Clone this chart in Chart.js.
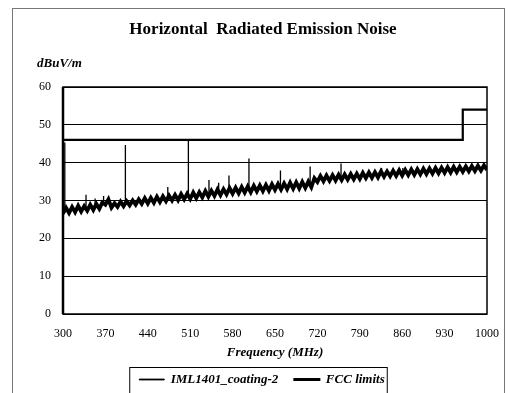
<!DOCTYPE html>
<html lang="en">
<head>
  <meta charset="UTF-8">
  <title>Horizontal Radiated Emission Noise</title>
  <script src="https://cdn.jsdelivr.net/npm/chart.js"></script>
  <style>
    body { margin: 0; background: #fff; }
    .frame { position: absolute; left: 12px; top: 8px; width: 491px; height: 400px; border: 1px solid #777; }
    .box { position: absolute; left: 0; top: 0; width: 512px; height: 393px; }
  </style>
</head>
<body>
  <div class="frame"></div>
  <div class="box"><canvas id="grafico" width="512" height="393"></canvas></div>

<script>
  // emission band (MHz / dBuV/m)
  const bandFreq = [
    300, 305, 310, 315, 320, 325, 330, 335, 340, 345, 350, 355, 360, 365, 370, 375, 380, 385, 390, 395,
    400, 405, 410, 415, 420, 425, 430, 435, 440, 445, 450, 455, 460, 465, 470, 475, 480, 485, 490, 495,
    500, 505, 510, 515, 520, 525, 530, 535, 540, 545, 550, 555, 560, 565, 570, 575, 580, 585, 590, 595,
    600, 605, 610, 615, 620, 625, 630, 635, 640, 645, 650, 655, 660, 665, 670, 675, 680, 685, 690, 695,
    700, 705, 710, 715, 720, 725, 730, 735, 740, 745, 750, 755, 760, 765, 770, 775, 780, 785, 790, 795,
    800, 805, 810, 815, 820, 825, 830, 835, 840, 845, 850, 855, 860, 865, 870, 875, 880, 885, 890, 895,
    900, 905, 910, 915, 920, 925, 930, 935, 940, 945, 950, 955, 960, 965, 970, 975, 980, 985, 990, 995,
    1000
  ];
  const bandLevel = [
    26.5, 28.1, 26.7, 28.3, 26.9, 28.6, 27.1, 28.5, 27.3, 28.9, 27.5, 29.1, 27.8, 29.5, 28.9, 30.3, 28.1, 29.3, 28.3, 29.7,
    28.5, 29.8, 28.7, 30.0, 28.9, 30.3, 29.1, 30.6, 29.2, 30.7, 29.4, 31.0, 29.6, 31.1, 29.8, 31.3, 30.0, 31.5, 30.1, 31.7,
    30.3, 31.8, 30.4, 32.1, 30.6, 32.2, 30.8, 32.5, 31.0, 32.6, 31.2, 32.9, 31.4, 33.0, 31.6, 33.3, 31.8, 33.4, 31.9, 33.6,
    32.1, 33.7, 32.2, 33.9, 32.4, 34.0, 32.5, 34.1, 32.6, 34.3, 32.8, 34.4, 32.9, 34.5, 33.0, 34.7, 33.1, 34.8, 33.2, 34.9,
    33.3, 35.0, 33.5, 35.9, 34.9, 36.5, 35.1, 36.6, 35.2, 36.7, 35.3, 36.8, 35.4, 36.9, 35.5, 37.0, 35.6, 37.1, 35.7, 37.3,
    35.9, 37.4, 36.0, 37.5, 36.1, 37.7, 36.3, 37.7, 36.4, 37.9, 36.5, 38.0, 36.6, 38.1, 36.7, 38.2, 36.8, 38.3, 36.9, 38.4,
    37.0, 38.5, 37.1, 38.6, 37.2, 38.7, 37.3, 38.8, 37.4, 38.9, 37.5, 38.9, 37.6, 39.0, 37.7, 39.1, 37.8, 39.2, 37.9, 39.3,
    38.1
  ];

  // narrow peaks sticking out of the band: frequency, top and foot level
  const spikeFreq = [303, 338, 353, 367, 403, 473, 507, 541, 557, 574, 607, 659, 708, 759, 826, 861];
  const spikeLevel = [45.3, 31.5, 30.5, 31.2, 44.7, 33.6, 46.0, 35.4, 34.7, 36.6, 41.1, 37.9, 39.0, 39.8, 38.6, 38.6];
  const spikeBase = [27.3, 28.2, 28.5, 29.0, 29.2, 30.5, 31.0, 31.8, 32.1, 32.4, 33.0, 33.7, 34.2, 36.2, 37.0, 37.4];

  // FCC limit line
  const fccFreq = [300, 960, 960, 1000];
  const fccLevel = [46, 46, 54, 54];

  const xTicks = [300, 370, 440, 510, 580, 650, 720, 790, 860, 930, 1000];

  const serif = '"Liberation Serif", "Times New Roman", serif';

  let pontos = [];
  for (let i = 0; i < bandFreq.length; i++) pontos.push({ x: bandFreq[i], y: bandLevel[i] });

  let picos = [];
  for (let i = 0; i < spikeFreq.length; i++) {
    picos.push({ x: spikeFreq[i], y: spikeBase[i] });
    picos.push({ x: spikeFreq[i], y: spikeLevel[i] });
    picos.push({ x: spikeFreq[i], y: null });
  }

  let limites = fccFreq.map(function (f, i) { return { x: f, y: fccLevel[i] }; });

  // titles, frame of the plot and box round the legend
  const extras = {
    id: 'extras',
    afterDraw(chart) {
      const ctx = chart.ctx;
      const a = chart.chartArea;
      ctx.save();
      ctx.fillStyle = '#000';
      ctx.textAlign = 'center';
      ctx.textBaseline = 'middle';
      ctx.font = 'bold 17px ' + serif;
      ctx.fillText('Horizontal  Radiated Emission Noise', 263, 30);
      ctx.textAlign = 'left';
      ctx.font = 'bold italic 13px ' + serif;
      ctx.fillText('dBuV/m', 37, 64);

      ctx.strokeStyle = '#000';
      ctx.lineWidth = 1.5;
      ctx.strokeRect(a.left, a.top, a.right - a.left, a.bottom - a.top);
      ctx.lineWidth = 2.5;
      ctx.beginPath();
      ctx.moveTo(a.left, a.top);
      ctx.lineTo(a.left, a.bottom);
      ctx.stroke();

      const hb = chart.legend.legendHitBoxes;
      if (hb && hb.length) {
        const first = hb[0], last = hb[hb.length - 1];
        ctx.lineWidth = 1;
        ctx.strokeRect(first.left - 9.5, first.top - 5.5, last.left + last.width - first.left + 12, first.height + 16);
      }
      ctx.restore();
    }
  };

  const config = {
    type: 'line',
    data: {
      datasets: [{
        label: 'IML1401_coating-2',
        data: pontos,
        borderColor: '#000',
        backgroundColor: '#000',
        borderWidth: 3.8,
        pointRadius: 0,
        tension: 0
      }, {
        label: 'FCC limits',
        data: limites,
        borderColor: '#000',
        backgroundColor: '#000',
        borderWidth: 2.2,
        pointRadius: 0,
        tension: 0
      }, {
        label: 'picos',
        data: picos,
        borderColor: '#000',
        borderWidth: 1.3,
        pointRadius: 0,
        spanGaps: false,
        tension: 0
      }]
    },
    options: {
      responsive: false,
      animation: false,
      layout: { padding: { left: 36, right: 24, top: 87, bottom: -3 } },
      plugins: {
        title: { display: false },
        tooltip: { enabled: false },
        legend: {
          position: 'bottom',
          labels: {
            color: '#000',
            font: { family: serif, size: 13, weight: 'bold', style: 'italic' },
            boxWidth: 25,
            boxHeight: 1,
            padding: 16,
            filter: function (item) { return item.datasetIndex < 2; },
            generateLabels: function (chart) {
              const itens = Chart.defaults.plugins.legend.labels.generateLabels(chart);
              itens.forEach(function (it) { it.lineWidth = it.datasetIndex === 1 ? 2 : 0.8; });
              return itens;
            }
          }
        }
      },
      scales: {
        x: {
          type: 'linear',
          min: 300,
          max: 1000,
          afterBuildTicks(scale) { scale.ticks = xTicks.map(function (v) { return { value: v }; }); },
          ticks: {
            color: '#000', font: { family: serif, size: 12 }, padding: 13, maxRotation: 0, autoSkip: false,
            callback: function (v) { return String(v); }
          },
          grid: { display: false, drawTicks: false },
          border: { display: false },
          title: {
            display: true,
            text: 'Frequency (MHz)',
            color: '#000',
            font: { family: serif, size: 13, weight: 'bold', style: 'italic' },
            padding: { top: -10, bottom: -3 }
          }
        },
        y: {
          min: 0,
          max: 60,
          afterFit(scale) { scale.width = 27; },
          ticks: { stepSize: 10, color: '#000', font: { family: serif, size: 12 }, padding: 12 },
          grid: { color: '#000', lineWidth: 1, drawTicks: false },
          border: { display: false }
        }
      }
    },
    plugins: [extras]
  };

  new Chart(document.getElementById('grafico'), config);
</script>
</body>
</html>
